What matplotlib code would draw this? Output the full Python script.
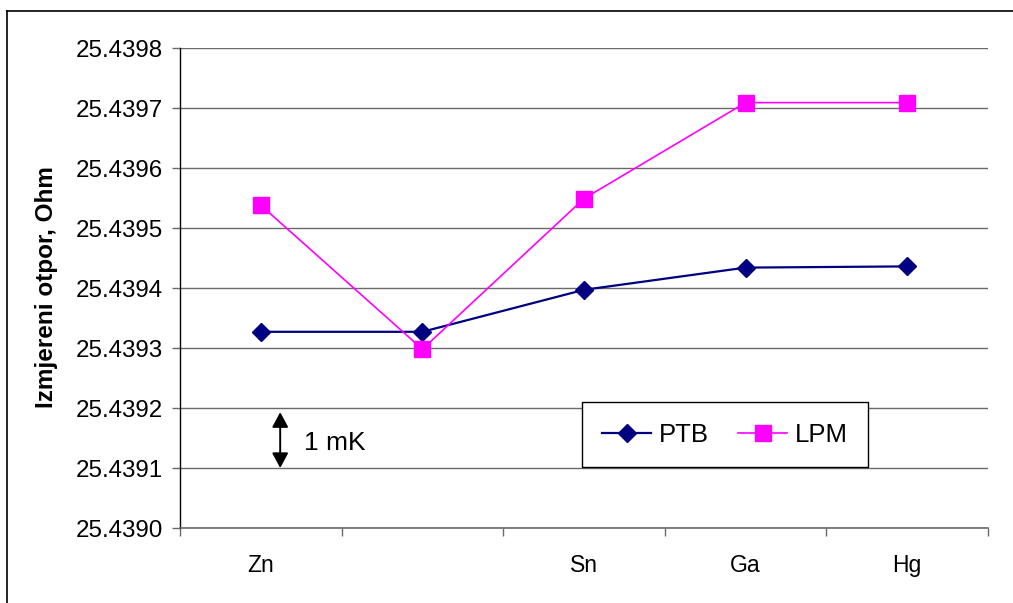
import numpy as np
import matplotlib
matplotlib.use("Agg")
import matplotlib.pyplot as plt
from matplotlib.lines import Line2D
from matplotlib.ticker import FormatStrFormatter, FixedLocator

plt.rcParams['font.family'] = ['Liberation Sans', 'DejaVu Sans']

# data
categories = ['Zn', '', 'Sn', 'Ga', 'Hg']
ptb = [25.439327, 25.439327, 25.439397, 25.439434, 25.439436]
lpm = [25.439538, 25.439298, 25.439549, 25.439709, 25.439709]
y_ticks = [25.4390, 25.4391, 25.4392, 25.4393, 25.4394, 25.4395, 25.4396, 25.4397, 25.4398]

W, H = 1013, 603
fig = plt.figure(figsize=(W / 100, H / 100), dpi=100)
ax = fig.add_axes([180 / W, (H - 528) / H, 808 / W, 480 / H])

x = np.arange(len(categories))
ax.plot(x, ptb, color='#000080', lw=1.6, marker='D', ms=9, mec='#000080',
        mfc='#000080', label='PTB', zorder=3)
ax.plot(x, lpm, color='#ff00ff', lw=1.2, marker='s', ms=11.5, mec='#ff00ff',
        mfc='#ff00ff', label='LPM', zorder=3)

ax.set_xlim(-0.5, len(categories) - 0.5)
ax.set_ylim(y_ticks[0], y_ticks[-1])
ax.set_yticks(y_ticks)
ax.yaxis.set_major_formatter(FormatStrFormatter('%.4f'))
ax.grid(axis='y', color='#6a6a6a', lw=1.0)
ax.set_axisbelow(True)

# category boundaries as ticks, names centred between them
ax.xaxis.set_major_locator(FixedLocator(np.arange(len(categories) + 1) - 0.5))
ax.xaxis.set_minor_locator(FixedLocator(x))
ax.set_xticklabels([], minor=False)
ax.set_xticklabels(categories, minor=True)
ax.tick_params(axis='x', which='major', length=6, width=1, color='#6a6a6a')
ax.tick_params(axis='x', which='minor', length=0, pad=19, labelsize=16.5)
ax.tick_params(axis='y', length=6, width=1, color='#6a6a6a', pad=6.5, labelsize=17.4)

for s in ['top', 'right']:
    ax.spines[s].set_visible(False)
ax.spines['left'].set_color('black')
ax.spines['bottom'].set_color('#6a6a6a')
ax.spines['left'].set_linewidth(1.0)
ax.spines['bottom'].set_linewidth(1.2)

fig.text(46 / W, 1 - 287 / H, 'Izmjereni otpor, Ohm', rotation=90, ha='center',
         va='center', fontsize=17.5, fontweight='bold')

# 1 mK marker between two gridlines
ax.annotate('', xy=(0.12, 25.43910), xytext=(0.12, 25.439193),
            arrowprops=dict(arrowstyle='<|-|>,head_length=0.65,head_width=0.35',
                            color='black', lw=1.4, mutation_scale=14,
                            shrinkA=0, shrinkB=0))
ax.text(0.27, 25.439142, '1 mK', fontsize=19, va='center', ha='left')

leg = ax.legend(loc='center', bbox_to_anchor=(725 / W, 1 - 434.5 / H),
                bbox_transform=fig.transFigure, ncol=2,
                fontsize=18.5, frameon=True, fancybox=False, framealpha=1,
                edgecolor='black', handlelength=1.9, columnspacing=1.15,
                borderpad=0.8, handletextpad=0.3)
leg.get_frame().set_linewidth(1.0)

# outer frame of the chart area
fig.add_artist(Line2D([7 / W, 1], [1 - 11 / H, 1 - 11 / H], color='black', lw=1.2))
fig.add_artist(Line2D([7 / W, 7 / W], [0, 1 - 11 / H], color='black', lw=1.2))

fig.savefig('out.png', dpi=100)
